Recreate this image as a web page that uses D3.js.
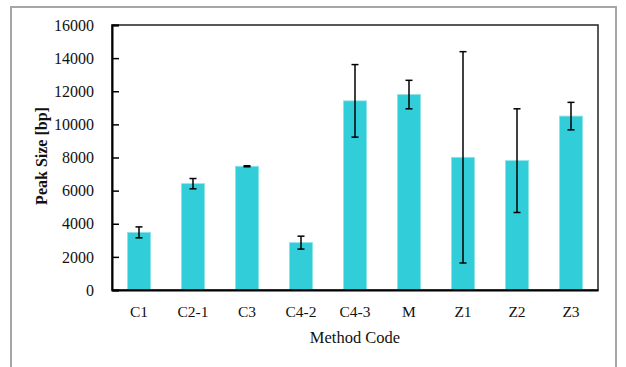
<!DOCTYPE html>
<html>
<head>
<meta charset="utf-8">
<script src="https://cdn.jsdelivr.net/npm/d3@7"></script>
<style>
html,body{margin:0;padding:0;background:#fff;}
svg{display:block;}
svg text{font-family:"Liberation Serif",Tinos,"Times New Roman",Times,serif !important;fill:#111;}
</style>
</head>
<body>
<svg id="chart" width="626" height="367"></svg>
<script>
const categories = ["C1","C2-1","C3","C4-2","C4-3","M","Z1","Z2","Z3"];
const peakSize = [3480, 6420, 7470, 2860, 11420, 11800, 8010, 7810, 10500];
const errors = [330, 310, 30, 390, 2190, 860, 6380, 3130, 830];
const yTicks = [0,2000,4000,6000,8000,10000,12000,14000,16000];

const svg = d3.select("#chart");
const L = 112, R = 598, T = 25, B = 290;
const serif = '"Liberation Serif", Tinos, "Times New Roman", Times, serif';

// outer frame
svg.append("rect").attr("x",11).attr("y",7).attr("width",605).attr("height",380)
  .attr("fill","none").attr("stroke","#a6a6a6").attr("stroke-width",2);

const x = d3.scaleBand().domain(categories).range([L,R]).paddingInner(0.57).paddingOuter(0.285);
const y = d3.scaleLinear().domain([0,16000]).range([B,T]);

// bars
svg.append("g").selectAll("rect").data(categories).join("rect")
  .attr("x",d=>x(d)).attr("width",x.bandwidth())
  .attr("y",(d,i)=>y(peakSize[i])).attr("height",(d,i)=>B - y(peakSize[i]))
  .attr("fill","#31cdd8").attr("stroke","#8fe3e9").attr("stroke-width",0.8);

// error bars
const eg = svg.append("g").attr("stroke","#000").attr("stroke-width",1.5);
categories.forEach((c,i)=>{
  const cx = x(c) + x.bandwidth()/2;
  const hi = y(peakSize[i]+errors[i]), lo = y(peakSize[i]-errors[i]);
  eg.append("line").attr("x1",cx).attr("x2",cx).attr("y1",hi).attr("y2",lo);
  eg.append("line").attr("x1",cx-3.5).attr("x2",cx+3.5).attr("y1",hi).attr("y2",hi);
  eg.append("line").attr("x1",cx-3.5).attr("x2",cx+3.5).attr("y1",lo).attr("y2",lo);
});

// plot frame
svg.append("rect").attr("x",L).attr("y",T).attr("width",R-L).attr("height",B-T)
  .attr("fill","none").attr("stroke","#222").attr("stroke-width",1.5);

// y axis with inward ticks
const yAxis = d3.axisLeft(y).tickValues(yTicks).tickSize(-7).tickPadding(18).tickFormat(d3.format("d"));
const yg = svg.append("g").attr("transform",`translate(${L},0)`).call(yAxis)
  .attr("font-family",serif).attr("font-size",16);
yg.select(".domain").attr("stroke","#000").attr("stroke-width",2);
yg.selectAll(".tick line").attr("stroke","#000").attr("stroke-width",1.5);
yg.selectAll(".tick text").style("font-family",serif).style("font-size","16px").attr("fill","#111");

// x axis
const xAxis = d3.axisBottom(x).tickSize(0).tickPadding(16);
const xg = svg.append("g").attr("transform",`translate(0,${B})`).call(xAxis)
  .attr("font-family",serif).attr("font-size",15.5);
xg.select(".domain").attr("stroke","#000").attr("stroke-width",2);
xg.selectAll(".tick text").style("font-family",serif).style("font-size","15.5px").attr("fill","#111");

// axis titles
svg.append("text").attr("x",(L+R)/2).attr("y",343).attr("text-anchor","middle")
  .style("font-family",serif).style("font-size","16.5px").text("Method Code");
svg.append("text").attr("transform","translate(47,156) rotate(-90)").attr("text-anchor","middle")
  .style("font-family",serif).style("font-size","16px").style("font-weight","bold").text("Peak Size [bp]");
</script>
</body>
</html>
